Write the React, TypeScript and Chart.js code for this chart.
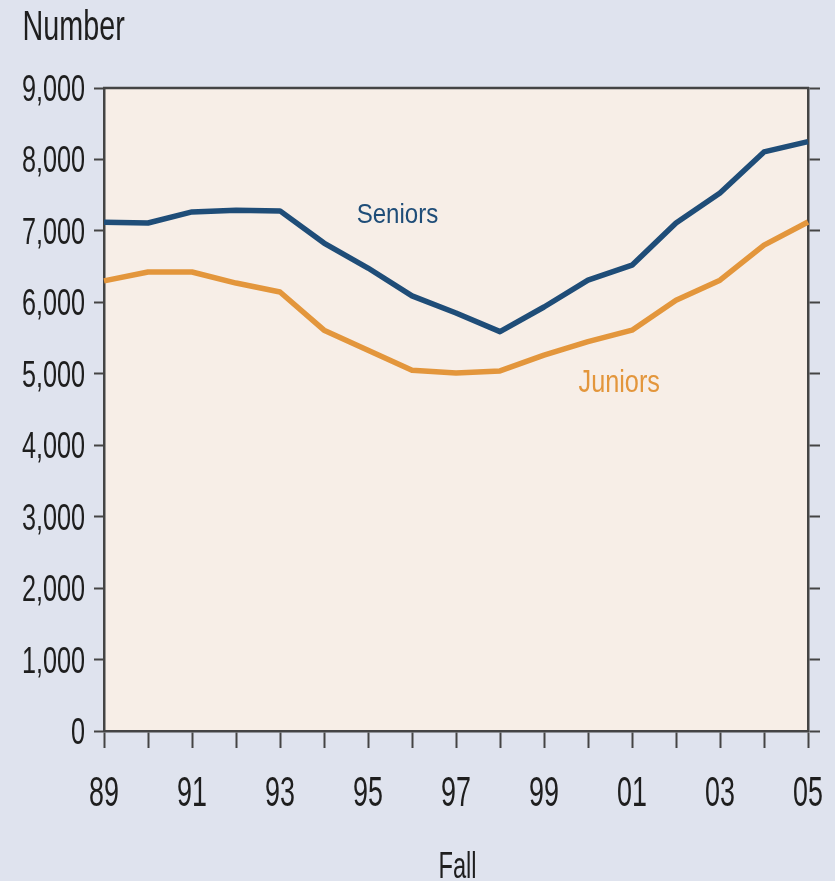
import React, { useEffect, useRef } from 'react';
import { Chart, registerables } from 'chart.js';

Chart.register(...registerables);

const years = ['89', '90', '91', '92', '93', '94', '95', '96', '97', '98', '99', '00', '01', '02', '03', '04', '05'];
const seniors = [7120, 7110, 7265, 7290, 7280, 6830, 6480, 6090, 5850, 5590, 5935, 6310, 6520, 7110, 7530, 8105, 8250];
const juniors = [6300, 6425, 6425, 6270, 6145, 5610, 5330, 5050, 5010, 5040, 5260, 5450, 5610, 6030, 6310, 6800, 7125];
const yMin = 0;
const yMax = 9000;
const yStep = 1000;
const seriesNames = ['Seniors', 'Juniors'];
// label anchors in data space: [category index, value] (text centre, baseline)
const seniorsLabelAt = [6.67, 7107];
const juniorsLabelAt = [11.71, 4749];
const yAxisTitle = 'Number';
const xAxisTitle = 'Fall';

const FONT = '"Liberation Sans", Arial, Helvetica, sans-serif';
const BLUE = '#1f4d78';
const ORANGE = '#e3963c';
const TEXT = '#1e1e1e';
const AXIS = '#444444';
const BG = '#dfe3ee';
const PLOT = '#f7eee7';

const W = 835;
const H = 881;

function condText(ctx: CanvasRenderingContext2D, text: string, x: number, y: number, size: number, sx: number, align: CanvasTextAlign, color: string) {
  ctx.save();
  ctx.font = `${size}px ${FONT}`;
  ctx.fillStyle = color;
  ctx.textBaseline = 'alphabetic';
  ctx.textAlign = align;
  ctx.translate(x, y);
  ctx.scale(sx, 1);
  ctx.fillText(text, 0, 0);
  ctx.restore();
}

export default function App() {
  const ref = useRef<HTMLCanvasElement | null>(null);

  useEffect(() => {
    if (!ref.current) return;
    const decor = {
      id: 'decor',
      beforeDraw(chart: any) {
        const { ctx, chartArea } = chart;
        ctx.save();
        ctx.fillStyle = BG;
        ctx.fillRect(0, 0, W, H);
        ctx.fillStyle = PLOT;
        ctx.fillRect(chartArea.left, chartArea.top, chartArea.right - chartArea.left, chartArea.bottom - chartArea.top);
        ctx.restore();
      },
      afterDraw(chart: any) {
        const { ctx, chartArea, scales } = chart;
        ctx.save();
        ctx.strokeStyle = AXIS;
        ctx.lineWidth = 2.5;
        ctx.beginPath();
        ctx.moveTo(chartArea.left - 1, chartArea.top);
        ctx.lineTo(chartArea.right + 1, chartArea.top);
        ctx.stroke();
        ctx.restore();

        // y tick labels (condensed)
        const ys = scales.y;
        ys.ticks.forEach((t: any, i: number) => {
          const py = ys.getPixelForTick(i);
          const lbl = Number(t.value).toLocaleString('en-US');
          condText(ctx, lbl, 85, py + 13, 36, 0.7, 'right', TEXT);
        });
        // x tick labels (condensed)
        const xs = scales.x;
        xs.ticks.forEach((_t: any, i: number) => {
          if (i % 2 !== 0) return;
          const px = xs.getPixelForTick(i);
          condText(ctx, years[i], px, 806, 42, 0.64, 'center', TEXT);
        });

        condText(ctx, yAxisTitle, 22.5, 40, 42, 0.685, 'left', TEXT);
        condText(ctx, xAxisTitle, 457.5, 878, 37, 0.64, 'center', TEXT);

        const sx = xs.getPixelForValue(seniorsLabelAt[0]);
        const sy = ys.getPixelForValue(seniorsLabelAt[1]);
        condText(ctx, seriesNames[0], sx, sy, 28, 0.86, 'center', BLUE);
        const jx = xs.getPixelForValue(juniorsLabelAt[0]);
        const jy = ys.getPixelForValue(juniorsLabelAt[1]);
        condText(ctx, seriesNames[1], jx, jy, 32, 0.79, 'center', ORANGE);
      },
    };

    const chart = new Chart(ref.current, {
      type: 'line',
      data: {
        labels: years,
        datasets: [
          { label: seriesNames[0], data: seniors, borderColor: BLUE, borderWidth: 5.5, pointRadius: 0, tension: 0, borderJoinStyle: 'round' },
          { label: seriesNames[1], data: juniors, borderColor: ORANGE, borderWidth: 5.5, pointRadius: 0, tension: 0, borderJoinStyle: 'round' },
        ],
      },
      options: {
        responsive: false,
        animation: false,
        layout: { padding: { top: 88, right: 0, left: 0, bottom: 0 } },
        plugins: { legend: { display: false }, tooltip: { enabled: false }, title: { display: false } },
        scales: {
          x: {
            type: 'category',
            offset: false,
            grid: { display: true, drawOnChartArea: false, drawTicks: true, tickLength: 17, tickColor: AXIS, tickWidth: 2 },
            border: { display: true, color: AXIS, width: 2.5 },
            ticks: { display: false, autoSkip: false, maxRotation: 0 },
            afterFit: (s: any) => { s.height = H - 731; },
          },
          y: {
            min: yMin,
            max: yMax,
            grid: { display: true, drawOnChartArea: false, drawTicks: true, tickLength: 10, tickColor: AXIS, tickWidth: 2 },
            border: { display: true, color: AXIS, width: 2.5 },
            ticks: { stepSize: yStep, display: false },
            afterFit: (s: any) => { s.width = 104; },
          },
          y2: {
            position: 'right',
            min: yMin,
            max: yMax,
            grid: { display: true, drawOnChartArea: false, drawTicks: true, tickLength: 12, tickColor: AXIS, tickWidth: 2 },
            border: { display: true, color: AXIS, width: 2.5 },
            ticks: { stepSize: yStep, display: false },
            afterFit: (s: any) => { s.width = W - 808; },
          },
        },
      },
      plugins: [decor],
    });
    return () => chart.destroy();
  }, []);

  return (
    <div style={{ position: 'fixed', left: 0, top: 0, width: W, height: H, background: BG }}>
      <canvas ref={ref} width={W} height={H} style={{ display: 'block', width: W, height: H }} />
    </div>
  );
}
